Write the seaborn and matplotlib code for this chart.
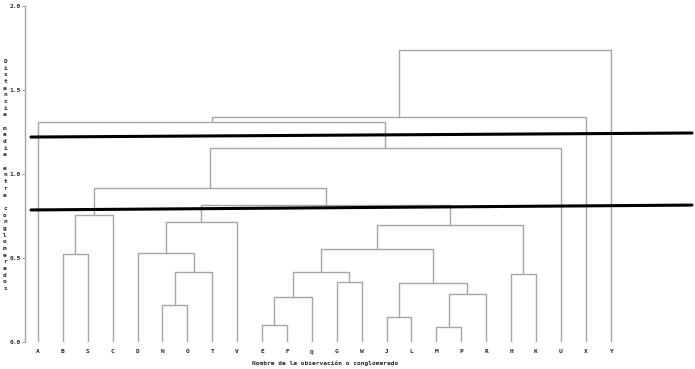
import matplotlib
matplotlib.use('Agg')
import matplotlib.pyplot as plt
import seaborn as sns
import pandas as pd

# Hojas del dendrograma (orden de la figura)
leaves = ['A', 'B', 'S', 'C', 'D', 'N', 'O', 'T', 'V', 'E', 'F', 'Q',
          'G', 'W', 'J', 'L', 'M', 'P', 'R', 'H', 'K', 'U', 'X', 'Y']

# Uniones: hoja (texto) o union previa (indice)
merge_left = ['B', 0, 'N', 2, 'D', 4, 'E', 6, 'G', 7, 'J', 'M', 11, 10, 9,
              'H', 14, 5, 1, 18, 'A', 20, 21]
merge_right = ['S', 'C', 'O', 'T', 3, 'V', 'F', 'Q', 'W', 8, 'L', 'P', 'R',
               12, 13, 'K', 15, 16, 17, 'U', 19, 'X', 'Y']
merge_height = [0.524, 0.756, 0.22, 0.417, 0.53, 0.714, 0.101, 0.268, 0.357,
                0.417, 0.149, 0.089, 0.286, 0.351, 0.553, 0.405, 0.696, 0.815,
                0.917, 1.155, 1.31, 1.339, 1.738]

# Lineas de corte (extremos izquierdo y derecho)
cut_x = [-0.28, 26.27]
cut_upper = [1.220, 1.244]
cut_lower = [0.786, 0.815]

ylabel = 'Distancia media entre conglomerados'
xlabel = 'Nombre de la observación o conglomerado'

# Coordenadas de cada union
pos = {name: (i, 0.0) for i, name in enumerate(leaves)}
rows = []
for k, (l, r, h) in enumerate(zip(merge_left, merge_right, merge_height)):
    xl, yl = pos[l]
    xr, yr = pos[r]
    for x, y in [(xl, yl), (xl, h), (xr, h), (xr, yr)]:
        rows.append({'link': k, 'x': x, 'y': y})
    pos[k] = ((xl + xr) / 2, h)
segs = pd.DataFrame(rows)

sns.set_style('ticks')
fig = plt.figure(figsize=(6.95, 3.69), dpi=100)
ax = fig.add_axes([25 / 695, 27 / 369, 670 / 695, 336 / 369])

sns.lineplot(data=segs, x='x', y='y', units='link', estimator=None, sort=False,
             color='#a6a6a6', linewidth=1.0, ax=ax, legend=False)

cuts = pd.DataFrame({'x': cut_x * 2, 'y': cut_upper + cut_lower,
                     'c': ['u', 'u', 'l', 'l']})
sns.lineplot(data=cuts, x='x', y='y', units='c', estimator=None, sort=False,
             color='black', linewidth=2.2, ax=ax, legend=False)

ax.set_xlim(-0.52, 26.39)
ax.set_ylim(0, 2.0)
ax.set_yticks([0, 0.5, 1.0, 1.5, 2.0])
ax.set_yticklabels(['0.0', '0.5', '1.0', '1.5', '2.0'],
                   fontsize=4.5, fontweight='bold', family='DejaVu Sans Mono')
ax.set_xticks(range(len(leaves)))
ax.set_xticklabels(leaves, fontsize=4.5, fontweight='bold',
                   family='DejaVu Sans Mono')
ax.tick_params(axis='x', length=0, pad=5)
ax.tick_params(axis='y', length=2, width=0.6, color='#888888', pad=1)
for s in ['top', 'right', 'bottom']:
    ax.spines[s].set_visible(False)
ax.spines['left'].set_color('#a6a6a6')
ax.spines['left'].set_linewidth(1.0)
ax.set_xlabel('')
ax.set_ylabel('')

fig.text(325 / 695, 1 - 363 / 369, xlabel, ha='center', va='center',
         fontsize=4.5, fontweight='bold', family='DejaVu Sans Mono')
fig.text(5 / 695, 1 - 175 / 369, '\n'.join(ylabel), ha='center', va='center',
         fontsize=4.5, fontweight='bold', family='DejaVu Sans Mono',
         linespacing=1.42)

fig.savefig('out.png', dpi=100)
